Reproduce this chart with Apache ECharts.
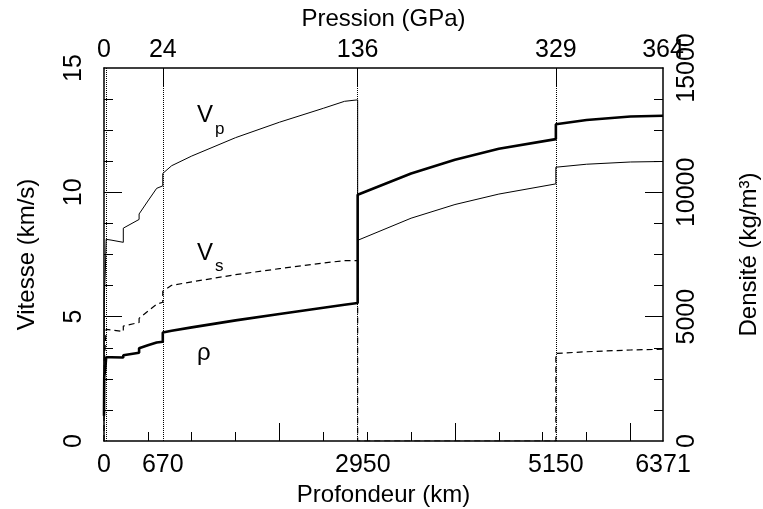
<!DOCTYPE html>
<html>
<head>
<meta charset="utf-8">
<script src="https://cdn.jsdelivr.net/npm/echarts@6/dist/echarts.min.js"></script>
<style>html,body{margin:0;padding:0;background:#fff}#c{width:763px;height:509px}</style>
</head>
<body>
<div id="c"></div>
<script>
// Depth nodes (km); repeated depths mark discontinuities
const depthKm = [0, 3, 3, 15, 15, 24.4, 24.4, 80, 220, 220, 400, 400, 500, 600, 670, 670, 771, 1000, 1500, 2000, 2500, 2741, 2891, 2891, 3500, 4000, 4500, 5150, 5150, 5500, 6000, 6371];
// P-wave velocity (km/s)
const vpKms = [1.45, 1.45, 5.8, 5.8, 6.8, 6.8, 8.11, 8.08, 7.99, 8.56, 8.91, 9.13, 9.65, 10.16, 10.26, 10.76, 11.07, 11.46, 12.20, 12.82, 13.38, 13.66, 13.72, 8.07, 8.96, 9.51, 9.93, 10.34, 11.01, 11.13, 11.22, 11.24];
// S-wave velocity (km/s)
const vsKms = [0, 0, 3.2, 3.2, 3.9, 3.9, 4.49, 4.47, 4.40, 4.62, 4.77, 4.93, 5.22, 5.50, 5.58, 6.02, 6.26, 6.40, 6.69, 6.93, 7.16, 7.25, 7.25, 0, 0, 0, 0, 0, 3.52, 3.59, 3.66, 3.69];
// Density (kg/m3)
const rhoKgm3 = [1020, 1020, 2600, 2600, 2900, 2900, 3370, 3370, 3360, 3450, 3550, 3730, 3850, 3960, 3990, 4360, 4430, 4570, 4850, 5110, 5360, 5480, 5550, 9900, 10760, 11310, 11750, 12140, 12740, 12910, 13050, 13080];

// Axis tick labels
const depthLabels = [0, 670, 2950, 5150, 6371];
const pressureTickKm = [0, 670, 2891, 5150, 6371];
const pressureLabels = ['0', '24', '136', '329', '364'];
const velocityLabels = [0, 5, 10, 15];
const densityLabels = [0, 5000, 10000, 15000];
// Boundaries drawn as dotted vertical lines (km)
const boundariesKm = [24.4, 670, 2891, 5150];

const FONT = 'Liberation Sans, Arial, sans-serif';
const black = '#000';
const pairs = (vals) => depthKm.map((d, i) => [d, vals[i]]);
const plain = (v) => String(v);

const majorX = [2000, 4000, 6000];
const minorX = [500, 1000, 1500, 2500, 3000, 3500, 4500, 5000, 5500];
const majorV = [5, 10];
const minorV = [1.25, 2.5, 3.75, 6.25, 7.5, 8.75, 11.25, 12.5, 13.75];

const chart = echarts.init(document.getElementById('c'), null, {renderer: 'canvas'});
const txt = {color: black, fontFamily: FONT, fontSize: 24};
const tickTxt = {color: black, fontFamily: FONT, fontSize: 25};
const line = (show) => ({show: show, onZero: false, lineStyle: {color: black, width: 1.5}});

chart.setOption({
  animation: false,
  backgroundColor: '#fff',
  grid: {left: 104, right: 100, top: 68, bottom: 68, containLabel: false, outerBoundsMode: 'none'},
  xAxis: [
    {
      type: 'value', position: 'bottom', min: 0, max: 6371,
      name: 'Profondeur (km)', nameLocation: 'middle', nameGap: 38, nameTextStyle: txt,
      axisLine: line(true),
      axisTick: {show: true, inside: true, length: 18, customValues: majorX, lineStyle: {color: black, width: 1}},
      axisLabel: {customValues: depthLabels, margin: 12, formatter: plain, ...tickTxt},
      splitLine: {show: false}
    },
    {
      type: 'value', position: 'top', min: 0, max: 6371,
      name: 'Pression (GPa)', nameLocation: 'middle', nameGap: 37, nameTextStyle: txt,
      axisLine: line(true),
      axisTick: {show: true, inside: true, length: 18, customValues: [670, 2891, 5150], lineStyle: {color: black, width: 1}},
      axisLabel: {customValues: pressureTickKm, margin: 5, ...tickTxt,
        formatter: (v) => pressureLabels[pressureTickKm.indexOf(v)]},
      splitLine: {show: false}
    },
    {
      type: 'value', position: 'bottom', min: 0, max: 6371,
      axisLine: line(false),
      axisTick: {show: true, inside: true, length: 9, customValues: minorX, lineStyle: {color: black, width: 1}},
      axisLabel: {show: false}, splitLine: {show: false}
    }
  ],
  yAxis: [
    {
      type: 'value', position: 'left', min: 0, max: 15,
      name: 'Vitesse (km/s)', nameLocation: 'middle', nameGap: 65, nameRotate: 90, nameTextStyle: txt,
      axisLine: line(true),
      axisTick: {show: true, inside: true, length: 18, customValues: majorV, lineStyle: {color: black, width: 1}},
      axisLabel: {customValues: velocityLabels, rotate: 90, margin: 17, formatter: plain, ...tickTxt},
      splitLine: {show: false}
    },
    {
      type: 'value', position: 'right', min: 0, max: 15000,
      name: 'Densité (kg/m³)', nameLocation: 'middle', nameGap: 74, nameRotate: 90, nameTextStyle: txt,
      axisLine: line(true),
      axisTick: {show: true, inside: true, length: 18, customValues: majorV.map(v => v * 1000), lineStyle: {color: black, width: 1}},
      axisLabel: {customValues: densityLabels, rotate: 90, margin: 12, formatter: plain, ...tickTxt},
      splitLine: {show: false}
    },
    {
      type: 'value', position: 'left', min: 0, max: 15,
      axisLine: line(false),
      axisTick: {show: true, inside: true, length: 9, customValues: minorV, lineStyle: {color: black, width: 1}},
      axisLabel: {show: false}, splitLine: {show: false}
    },
    {
      type: 'value', position: 'right', min: 0, max: 15000,
      axisLine: line(false),
      axisTick: {show: true, inside: true, length: 9, customValues: minorV.map(v => v * 1000), lineStyle: {color: black, width: 1}},
      axisLabel: {show: false}, splitLine: {show: false}
    }
  ],
  series: [
    {
      name: 'boundaries', type: 'line', data: [], xAxisIndex: 0, yAxisIndex: 0,
      markLine: {
        silent: true, symbol: ['none', 'none'], label: {show: false},
        lineStyle: {color: black, type: 'dotted', width: 1},
        data: boundariesKm.map(b => ({xAxis: b}))
      }
    },
    {
      name: 'Vp', type: 'line', data: pairs(vpKms), xAxisIndex: 0, yAxisIndex: 0,
      showSymbol: false, symbol: 'none', lineStyle: {color: black, width: 1}
    },
    {
      name: 'Vs', type: 'line', data: pairs(vsKms), xAxisIndex: 0, yAxisIndex: 0,
      showSymbol: false, symbol: 'none', lineStyle: {color: black, width: 1.2, type: [6, 4]}
    },
    {
      name: 'rho', type: 'line', data: pairs(rhoKgm3), xAxisIndex: 0, yAxisIndex: 1,
      showSymbol: false, symbol: 'none', lineStyle: {color: black, width: 2.6}
    }
  ],
  graphic: [
    {type: 'text', left: 197, top: 103, style: {text: 'V', fill: black, font: '24px ' + FONT}},
    {type: 'text', left: 215, top: 121, style: {text: 'p', fill: black, font: '17px ' + FONT}},
    {type: 'text', left: 197, top: 241, style: {text: 'V', fill: black, font: '24px ' + FONT}},
    {type: 'text', left: 215, top: 258, style: {text: 's', fill: black, font: '17px ' + FONT}},
    {type: 'text', left: 197, top: 341, style: {text: 'ρ', fill: black, font: '24px ' + FONT}}
  ]
});
</script>
</body>
</html>
